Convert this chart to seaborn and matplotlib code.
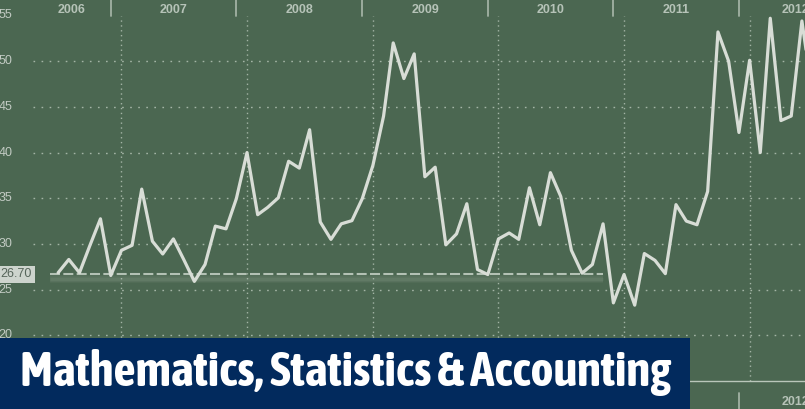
import matplotlib
matplotlib.use("Agg")
import matplotlib.pyplot as plt
from matplotlib import font_manager as fm
from matplotlib.patches import Rectangle
import pandas as pd
import seaborn as sns

# monthly values, Jul 2006 .. Jul 2012
start_month = "2006-07-01"
values = [26.85, 28.3, 26.85, 29.8, 32.75, 26.55, 29.3, 29.85, 36.0, 30.3,
          28.9, 30.55, 28.3, 25.9, 27.75, 31.95, 31.65, 34.95, 40.0, 33.2,
          34.0, 35.05, 39.05, 38.3, 42.5, 32.4, 30.5, 32.2, 32.55, 34.95,
          38.6, 44.0, 52.0, 48.1, 50.8, 37.35, 38.4, 29.9, 31.1, 34.4,
          27.2, 26.65, 30.55, 31.2, 30.5, 36.15, 32.1, 37.8, 35.2, 29.3,
          26.8, 27.75, 32.2, 23.55, 26.65, 23.3, 28.95, 28.2, 26.75, 34.3,
          32.5, 32.1, 35.75, 53.2, 50.0, 42.2, 50.1, 40.0, 54.7, 43.5,
          44.0, 54.4, 46.5]
years = [2006, 2007, 2008, 2009, 2010, 2011, 2012]
y_ticks = [55, 50, 45, 40, 35, 30, 25, 20]
grid_levels = [50, 45, 40, 35, 30, 25, 20]
ref_level = 26.70
ref_start = "2006-06-06"
ref_end = "2010-11-01"
banner_title = "Mathematics, Statistics & Accounting"

months = pd.date_range(start_month, periods=len(values), freq="MS")
df = pd.DataFrame({"month": months, "value": values})

bg = "#4b6751"
line_c = "#d8ddd6"
grid_c = "#a3b4a5"
label_c = "#c2cbc3"
year_c = "#b6c3b8"
navy = "#022a5d"

sns.set_style("dark", {"axes.facecolor": bg, "figure.facecolor": bg})
plt.rcParams["font.family"] = ["Liberation Sans", "DejaVu Sans"]

W, H = 805, 409
fig = plt.figure(figsize=(W / 100, H / 100), dpi=100)
ax_bot, ax_top = 381, 15.5          # pixel rows of the plot box
ax_h = (ax_bot - ax_top) / H
ax = fig.add_axes([0, (H - ax_bot) / H, 1, ax_h])
ax.set_facecolor(bg)

for lv in grid_levels:
    ax.axhline(lv, xmin=33 / W, color=grid_c, lw=1, ls=(0, (1.2, 4.6)), zorder=1)
for yr in years[1:]:
    ax.axvline(pd.Timestamp(f"{yr}-01-01"), color=grid_c, lw=1,
               ls=(0, (1, 2.5)), ymax=1.0, zorder=1)

# reference level with a soft shadow
for lw_, a_ in [(6, 0.05), (4, 0.07), (2.5, 0.08)]:
    ax.plot([pd.Timestamp(ref_start), pd.Timestamp(ref_end)], [ref_level - 0.55] * 2,
            color="#c4d0c5", lw=lw_, alpha=a_, solid_capstyle="butt", zorder=2)
ax.plot([pd.Timestamp(ref_start), pd.Timestamp(ref_end)], [ref_level] * 2,
        color="#b3c1b4", lw=1.5, ls=(0, (4.8, 1.6)), zorder=2)

sns.lineplot(data=df, x="month", y="value", color=line_c, lw=2.3, ax=ax, zorder=3)

ax.set_ylim(15, 55)
ax.set_xlim(pd.Timestamp("2006-01-13"), pd.Timestamp("2012-06-10"))
ax.set_xticks([])
ax.set_yticks([])
ax.set_xlabel("")
ax.set_ylabel("")
for side in ["top", "left", "right"]:
    ax.spines[side].set_visible(False)
ax.spines["bottom"].set_color("#b9c6ba")
ax.spines["bottom"].set_linewidth(1)

# y labels drawn inside the cropped left edge
yt = ax.get_yaxis_transform()
for v in y_ticks:
    ax.text(12.5 / W, v, str(v), transform=yt, ha="right", va="center",
            fontsize=9, color=label_c, clip_on=False)
ax.text(32 / W, ref_level, f"{ref_level:.2f}", transform=yt, ha="right", va="center",
        fontsize=9, color="#56655a", clip_on=False,
        bbox=dict(boxstyle="square,pad=0.2", fc="#cdd4cd", ec="none"))

# year bands above and below the plot
xt = ax.get_xaxis_transform()
px = 1 / (ax_bot - ax_top)
seps = [pd.Timestamp(f"{yr - 1}-12-01") for yr in years[1:]]
for s in seps:
    ax.plot([s, s], [1, 1 + 15.5 * px], transform=xt, color="#a2b2a4", lw=1.3,
            clip_on=False)
    ax.plot([s, s], [-12 * px, -28 * px], transform=xt, color="#a2b2a4", lw=1.3,
            clip_on=False)
centers = [pd.Timestamp("2006-08-09")]
for a, b in zip(seps[:-1], seps[1:]):
    centers.append(a + (b - a) / 2)
centers.append(pd.Timestamp("2012-05-14"))
for yr, c in zip(years, centers):
    ax.text(c, 1 + 5.5 * px, str(yr), transform=xt, ha="center", va="center",
            fontsize=9, fontweight="bold", color=year_c, clip_on=False)
    ax.text(c, -21 * px, str(yr), transform=xt, ha="center", va="center",
            fontsize=9, fontweight="bold", color=year_c, clip_on=False)


def banner_font():
    picks = []
    for f in fm.fontManager.ttflist:
        nm = f.name.lower()
        narrow = "condensed" in nm or "narrow" in nm or "condensed" in str(f.stretch)
        w = f.weight if isinstance(f.weight, int) else fm.weight_dict.get(f.weight, 400)
        if narrow and f.style == "normal" and w >= 600:
            picks.append((abs(w - 700), f.name, f.fname))
    if picks:
        picks.sort()
        return fm.FontProperties(fname=picks[0][2])
    return fm.FontProperties(family="DejaVu Sans", weight="bold", stretch="condensed")


fig.patches.append(Rectangle((0, 0), 690 / W, 71 / H, transform=fig.transFigure,
                             fc=navy, ec="none", zorder=10))
fp = banner_font()
t = fig.text(20 / W, (H - 373) / H, banner_title, color="white", ha="left",
             va="center", fontproperties=fp, fontsize=30, zorder=11)
r = fig.canvas.get_renderer()
bw = t.get_window_extent(r).width
t.set_fontsize(30 * 648 / bw)

fig.savefig("out.png", dpi=100, facecolor=bg)
